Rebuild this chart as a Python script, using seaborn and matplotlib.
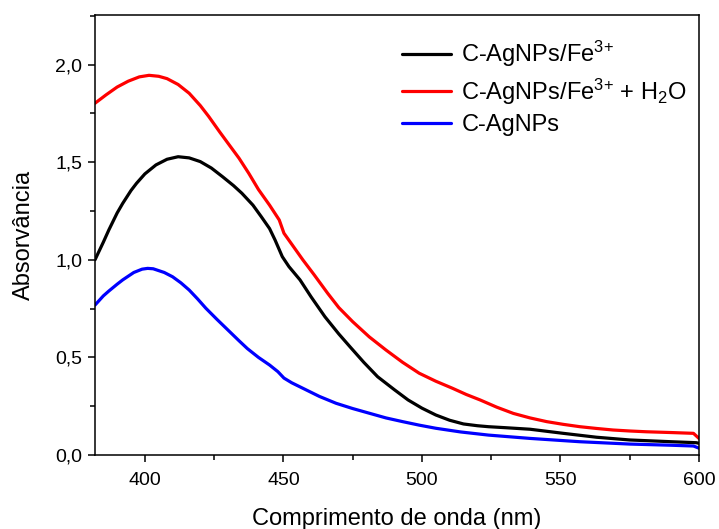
import numpy as np
import pandas as pd
import matplotlib
matplotlib.use("Agg")
import matplotlib.pyplot as plt
from matplotlib.ticker import FuncFormatter, MultipleLocator
import seaborn as sns

# ---- data ----
black_wl = [382, 385, 387, 390, 392, 395, 397, 400, 404, 408, 412, 416, 420, 424, 428,
            432, 435, 439, 442, 445, 447, 449.6, 452, 456, 460, 465, 470, 474, 479, 484,
            490, 495, 500, 505, 510, 515, 520, 524, 530, 539, 551, 563, 575, 590, 599, 600]
black_abs = [1.0, 1.09, 1.153, 1.24, 1.289, 1.355, 1.392, 1.44, 1.486, 1.515, 1.528,
             1.522, 1.503, 1.47, 1.426, 1.38, 1.341, 1.28, 1.221, 1.16, 1.101, 1.016,
             0.965, 0.897, 0.81, 0.708, 0.62, 0.555, 0.475, 0.401, 0.335, 0.282, 0.24,
             0.205, 0.178, 0.159, 0.15, 0.145, 0.14, 0.132, 0.111, 0.091, 0.077, 0.068,
             0.063, 0.06]

red_wl = [382, 386, 390, 394, 398, 401.5, 405, 408, 412, 416, 420, 423, 427, 430, 434,
          437.5, 441, 445, 448.5, 450.2, 453, 457, 461, 466, 470, 475, 481, 487, 493, 499,
          505, 511, 516, 521, 527, 533, 539, 545, 551, 557, 563, 569, 575, 581, 590, 598,
          600]
red_abs = [1.802, 1.845, 1.885, 1.915, 1.937, 1.945, 1.94, 1.928, 1.898, 1.853, 1.79,
           1.735, 1.655, 1.597, 1.52, 1.443, 1.36, 1.28, 1.204, 1.136, 1.08, 1.0, 0.925,
           0.828, 0.755, 0.683, 0.605, 0.538, 0.475, 0.419, 0.378, 0.342, 0.31, 0.282,
           0.245, 0.213, 0.19, 0.171, 0.157, 0.145, 0.136, 0.128, 0.123, 0.119, 0.115,
           0.111, 0.085]

blue_wl = [382, 385, 387, 390, 392, 396, 399, 401, 403, 407, 410, 413, 416, 419, 422,
           426, 430, 434, 437, 441, 445, 448, 450.2, 453, 457, 463, 469, 475, 481, 487,
           493, 499, 505, 514, 524, 539, 557, 575, 590, 598, 600]
blue_abs = [0.768, 0.815, 0.84, 0.875, 0.897, 0.935, 0.952, 0.956, 0.954, 0.935, 0.913,
            0.882, 0.845, 0.8, 0.752, 0.695, 0.64, 0.585, 0.545, 0.5, 0.461, 0.427, 0.394,
            0.37, 0.342, 0.3, 0.265, 0.238, 0.214, 0.19, 0.171, 0.153, 0.137, 0.118,
            0.102, 0.085, 0.068, 0.056, 0.05, 0.046, 0.035]

labels = [r'C-AgNPs/Fe$^{\text{3+}}$',
          r'C-AgNPs/Fe$^{\text{3+}}$ + H$_{\text{2}}$O',
          'C-AgNPs']
colors = ['#000000', '#ff0000', '#0000ff']
x_ticks = [400, 450, 500, 550, 600]
y_ticks = [0.0, 0.5, 1.0, 1.5, 2.0]

df = pd.concat([
    pd.DataFrame({'wl': black_wl, 'abs': black_abs, 'serie': labels[0]}),
    pd.DataFrame({'wl': red_wl, 'abs': red_abs, 'serie': labels[1]}),
    pd.DataFrame({'wl': blue_wl, 'abs': blue_abs, 'serie': labels[2]}),
], ignore_index=True)

sns.set_theme(style="ticks")
plt.rcParams['font.family'] = ['Liberation Sans', 'DejaVu Sans']
plt.rcParams['mathtext.fontset'] = 'custom'
plt.rcParams['mathtext.rm'] = 'Liberation Sans'
plt.rcParams['mathtext.it'] = 'Liberation Sans:italic'
plt.rcParams['mathtext.bf'] = 'Liberation Sans:bold'
plt.rcParams['text.color'] = 'black'
plt.rcParams['axes.labelcolor'] = 'black'
plt.rcParams['xtick.color'] = 'black'
plt.rcParams['ytick.color'] = 'black'

fig, ax = plt.subplots(figsize=(7.19, 5.29), dpi=100)
fig.subplots_adjust(left=95/719, right=699/719, top=1-15/529, bottom=1-455/529)

sns.lineplot(data=df, x='wl', y='abs', hue='serie', hue_order=labels,
             palette=dict(zip(labels, colors)), sort=False, estimator=None,
             linewidth=2.3, ax=ax)
for ln in ax.get_lines():
    ln.set_solid_joinstyle('round')

ax.set_xlim(382, 600)
ax.set_ylim(0, 2.254)
ax.set_xticks(x_ticks)
ax.set_yticks(y_ticks)
ax.xaxis.set_minor_locator(MultipleLocator(25))
ax.yaxis.set_minor_locator(MultipleLocator(0.25))
ax.yaxis.set_major_formatter(FuncFormatter(lambda v, p: f"{v:.1f}".replace('.', ',')))
ax.xaxis.set_major_formatter(FuncFormatter(lambda v, p: f"{v:.0f}"))

for s in ax.spines.values():
    s.set_visible(True)
    s.set_linewidth(1.1)
    s.set_color('black')
ax.tick_params(which='major', direction='out', length=5, width=1.1, labelsize=14,
               colors='black', labelcolor='black', pad=4)
ax.tick_params(which='minor', direction='out', length=3.5, width=1.1, colors='black')
ax.tick_params(axis='x', which='major', pad=7)

ax.set_xlabel('Comprimento de onda (nm)', fontsize=17, labelpad=14, color='black')
ax.set_ylabel('Absorvância', fontsize=17, labelpad=15, color='black')

leg = ax.legend(loc='upper left', bbox_to_anchor=(0.508, 0.945), frameon=False,
                fontsize=17, handlelength=2.1, handletextpad=0.42, labelspacing=0.3,
                borderpad=0, borderaxespad=0)
for h in leg.get_lines():
    h.set_linewidth(2.3)
for t in leg.get_texts():
    t.set_color('black')

fig.savefig('out.png', dpi=100)
